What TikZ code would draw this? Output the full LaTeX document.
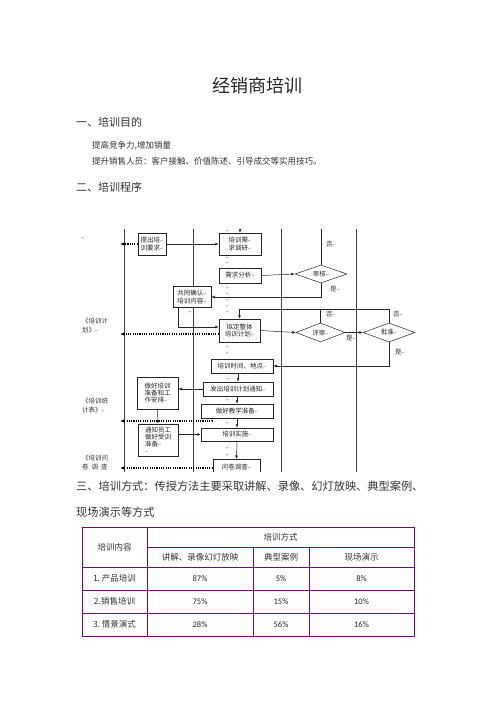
\documentclass[tikz,border=0pt]{standalone}
\usepackage{fontspec}
\setmainfont{Noto Sans CJK SC}
\newfontfamily\symf{DejaVu Sans}
\newfontfamily\numf{Carlito}
\usetikzlibrary{shapes.geometric,arrows.meta}
\definecolor{tblpurple}{HTML}{800080}
\definecolor{txtgray}{HTML}{333333}
\newcommand\retm{{\symf\fontsize{4}{4}\selectfont\textcolor{gray}{↵}}}
\begin{document}
\begin{tikzpicture}[x=1pt,y=-1pt,
  box/.style={draw=black!85, line width=0.5pt, fill=white, inner sep=0pt, align=center,
    font=\fontsize{6.5}{7.5}\selectfont, text=black!85},
  dia/.style={diamond, aspect=2.7, draw=black!85, line width=0.5pt, fill=white, inner sep=0pt,
    font=\fontsize{6.5}{7.5}\selectfont, text=black!85},
  lab/.style={inner sep=0pt, font=\fontsize{6.5}{9}\selectfont, text=black!80},
  pmark/.style={inner sep=0pt},
  lane/.style={draw=black!75, line width=0.6pt},
  arr/.style={-{Latex[length=3.5pt,width=2.8pt]}, draw=black!85, line width=0.5pt},
  dotarr/.style={-{Latex[length=4pt,width=3.2pt]}, draw=black, line width=1.1pt, dash pattern=on 1.1pt off 1.2pt},
  body/.style={inner sep=0pt, anchor=west, text=txtgray},
  cell/.style={inner sep=0pt, text=txtgray, font=\fontsize{8.5}{10}\selectfont},
  ncell/.style={inner sep=0pt, text=black!85, font=\numf\fontsize{8.5}{10}\selectfont},
  grid/.style={draw=tblpurple, line width=0.9pt}
]
\useasboundingbox (0,0) rectangle (496,702);
\fill[white] (0,0) rectangle (496,702);

% ---------- texts ----------
\node[inner sep=0pt, text=black!85, font=\fontsize{18}{20}\selectfont] (title) at (257,86) {经销商培训};
\node[body, font=\fontsize{11}{12}\selectfont] (s1) at (76,122) {一、培训目的};
\node[body, font=\fontsize{8.5}{10}\selectfont] (p1) at (92,146) {提高竞争力,增加销量};
\node[body, font=\fontsize{8.5}{10}\selectfont] (p2) at (92,161.5) {提升销售人员：客户接触、价值陈述、引导成交等实用技巧。};
\node[body, font=\fontsize{11}{12}\selectfont] (s2) at (76,187.5) {二、培训程序};
\node[body, font=\fontsize{11.2}{12}\selectfont] (s3) at (76,486) {三、培训方式：传授方法主要采取讲解、录像、幻灯放映、典型案例、};
\node[body, font=\fontsize{11.2}{12}\selectfont] (s3b) at (76,512.5) {现场演示等方式};

% ---------- flowchart ----------
\begin{scope}
\clip (60,229.5) rectangle (440,471);
\draw[lane] (124,229) -- (124,475);
\draw[lane] (193,229) -- (193,475);
\draw[lane] (281,229) -- (281,475);
\draw[lane] (356,229) -- (356,475);

\node[box, minimum width=28pt, minimum height=22pt] (req) at (152,244) {提出培\retm\\训要求\retm};
\node[box, minimum width=42pt, minimum height=22pt] (survey) at (240,244) {培训需\retm\\求调研\retm};
\node[box, minimum width=42pt, minimum height=15pt] (analysis) at (240,275.5) {需求分析\retm};
\node[dia, minimum width=52pt, minimum height=18pt] (audit) at (321,274) {审核\retm};
\node[box, minimum width=38pt, minimum height=21pt] (confirm) at (192,297) {共同确认\retm\\培训内容\retm};
\node[box, minimum width=41pt, minimum height=23pt] (plan) at (239.5,330.5) {拟定整体\\培训计划\retm};
\node[dia, minimum width=49pt, minimum height=19pt] (review) at (320.5,332.5) {评审\retm};
\node[dia, minimum width=52pt, minimum height=19pt] (approve) at (389,332.5) {批准\retm};
\node[box, minimum width=62pt, minimum height=14pt] (time) at (242,366) {培训时间、地点\retm};
\node[box, minimum width=70pt, minimum height=14pt] (notice) at (238,389) {发出培训计划通知\retm};
\node[box, minimum width=72pt, minimum height=14pt] (teach) at (237,411) {做好教学准备\retm};
\node[box, minimum width=72pt, minimum height=13pt] (impl) at (237,434.5) {培训实施\retm};
\node[box, minimum width=47pt, minimum height=16pt] (survey2) at (236.5,467) {问卷调查\retm};
\node[box, minimum width=41pt, minimum height=32pt, align=left, font=\fontsize{6.5}{7.3}\selectfont] (prep) at (157.5,393) {做好培训\\准备和工\\作安排\retm};
\node[box, minimum width=40pt, minimum height=32pt, align=left, font=\fontsize{6.5}{7}\selectfont] (notify) at (158,440) {通知员工\\做好受训\\准备\retm\\\retm};

% connectors
\coordinate (topjoin) at (240,226);
\draw[arr] (req.east) -- (survey.west);
\draw[arr] (audit.north) |- (topjoin) -- (survey.north);
\draw[arr] (analysis.east) -- (audit.west);
\draw[arr] (audit.south) |- (confirm.east);
\draw[arr] ([xshift=-14pt]confirm.south) |- ([yshift=3.5pt]plan.west);
\draw[arr] (plan.east) -- (review.west);
\draw[arr] (review.east) -- (approve.west);
\draw[arr] (approve.north) |- (plan.north |- 0,309) -- (plan.north);
\draw[draw=black!85, line width=0.5pt] (review.north) -- (review.north |- 0,309);
\draw[arr] (approve.south) |- (time.east);
\draw[arr] (notice.north |- time.south) -- (notice.north);
\draw[arr] (teach.north |- notice.south) -- (teach.north);
\draw[arr] (teach.south) -- (impl.north);
\draw[arr] (impl.south) -- (survey2.north |- 0,459);
\draw[arr] (notice.west) -- (prep.east |- notice.west);
\draw[arr] (prep.south) -- (notify.north);
\draw[arr] (notify.east |- impl.west) -- (impl.west);

% dotted document arrows
\coordinate (d1) at (120,244);
\coordinate (d2) at (120,334);
\coordinate (d3s) at (212,418);
\coordinate (d3) at (120,421);
\coordinate (d4) at (120,468);
\draw[dotarr] (req.west) -- (d1);
\draw[dotarr] ([yshift=-3.5pt]plan.west) -- (d2);
\draw[dotarr] (d3s) |- (d3);
\draw[dotarr] (survey2.west |- 0,468) -- (d4);

% edge labels
\node[lab] (n1) at (331,244) {否\retm};
\node[lab] (y1) at (335,289) {是\retm};
\node[lab] (n2) at (331,314) {否\retm};
\node[lab] (n3) at (398,314) {否\retm};
\node[lab] (y2) at (351,338.5) {是\retm};
\node[lab] (y3) at (400,352) {是\retm};

% left document labels
\node[pmark] (l0) at (83,238) {\retm};
\node[lab, anchor=north west, align=left] (l1) at (82,317.5) {《培训计\\划》\retm};
\node[lab, anchor=north west, align=left] (l2) at (82,397.5) {《培训统\\计表》\retm};
\node[lab, anchor=north west, align=left] (l3) at (82,454.5) {《培训问\\卷\ \ 调\ \ 查};

% paragraph marks
\foreach \yy [count=\i] in {231,258,263,288,294,300,306,312,347,353,379,400,423,448,455}
  \node[pmark] (r\i) at (227.5,\yy) {\retm};
\node[pmark] (rc) at (190,312) {\retm};
\end{scope}

% ---------- table ----------
\draw[grid] (82,527) rectangle (414,636);
\draw[grid] (147,547) -- (414,547);
\draw[grid] (82,567) -- (414,567);
\draw[grid] (82,590) -- (414,590);
\draw[grid] (82,613) -- (414,613);
\draw[grid] (147,527) -- (147,636);
\draw[grid] (253,547) -- (253,636);
\draw[grid] (309,547) -- (309,636);

\node[cell] (h1) at (114.5,547) {培训内容};
\node[cell] (h2) at (280.5,537) {培训方式};
\node[cell] (h3) at (200,557) {讲解、录像幻灯放映};
\node[cell] (h4) at (281,557) {典型案例};
\node[cell] (h5) at (361.5,557) {现场演示};

\node[cell] (r1c1) at (114.5,578.5) {1.\ 产品培训};
\node[ncell] (r1c2) at (200,578.5) {87\%};
\node[ncell] (r1c3) at (281,578.5) {5\%};
\node[ncell] (r1c4) at (361.5,578.5) {8\%};
\node[cell] (r2c1) at (114.5,601.5) {2.销售培训};
\node[ncell] (r2c2) at (200,601.5) {75\%};
\node[ncell] (r2c3) at (281,601.5) {15\%};
\node[ncell] (r2c4) at (361.5,601.5) {10\%};
\node[cell] (r3c1) at (114.5,624.5) {3.\ 情景演式};
\node[ncell] (r3c2) at (200,624.5) {28\%};
\node[ncell] (r3c3) at (281,624.5) {56\%};
\node[ncell] (r3c4) at (361.5,624.5) {16\%};
\end{tikzpicture}
\end{document}
